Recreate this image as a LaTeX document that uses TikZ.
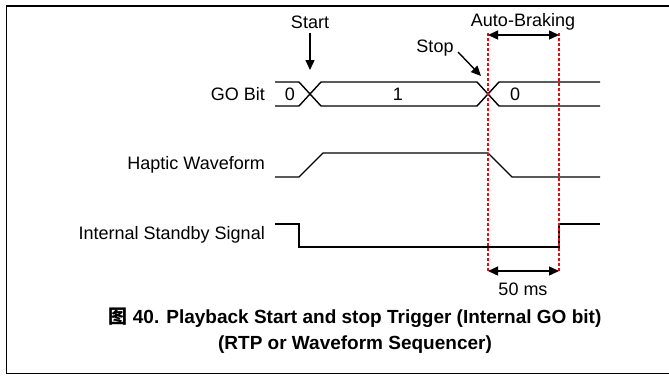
\documentclass[tikz,border=0pt]{standalone}
\usepackage{fontspec}
\setmainfont{Liberation Sans}
\newfontfamily\cjkfont{Noto Sans CJK SC}
\usetikzlibrary{arrows.meta,calc,positioning}
\tikzset{
    sigline/.style={line width=1.4pt,draw=black},
    markline/.style={line width=1.4pt,draw=red,dash pattern=on 3pt off 2pt},
    framepath/.style={line width=1.4pt,draw=black},
    callout/.style={line width=1.4pt,-{Triangle[length=10pt,width=9pt]}},
    spanarrow/.style={line width=1.4pt,{Triangle[length=10pt,width=9pt]}-{Triangle[length=10pt,width=9pt]}},
    siglabel/.style={anchor=east,inner sep=0pt,font=\fontsize{18}{21}\selectfont},
    bitval/.style={inner sep=0pt,font=\fontsize{18}{21}\selectfont},
    caption/.style={inner sep=0pt,font=\fontsize{19}{23}\selectfont\bfseries}
}
\begin{document}
\begin{tikzpicture}[x=1pt,y=-1pt]
  \useasboundingbox (0,0) rectangle (669,375);
  \draw[framepath] (669,6) -- (6.5,6) -- (6.5,373.5) -- (669,373.5);

  % signal names
  \node[siglabel] (gobit) at (265,94) {GO Bit};
  \node[siglabel] (haptic) at (265,165) {Haptic Waveform};
  \node[siglabel] (standby) at (265,235) {Internal Standby Signal};

  % GO bit bus
  \draw[sigline] (275,82) -- (299,82) -- (321,106) -- (477,106) -- (499,82) -- (600,82);
  \draw[sigline] (275,106) -- (299,106) -- (321,82) -- (477,82) -- (499,106) -- (600,106);
  \foreach \px/\val/\nm in {290/0/bita,398/1/bitb,515/0/bitc}{
    \node[bitval] (\nm) at (\px,94) {\val};
  }

  % haptic waveform
  \draw[sigline] (275,177) -- (299,177) -- (323,153) -- (488,153) -- (512,177) -- (600,177);

  % standby signal
  \draw[sigline] (275,224) -- (299,224) -- (299,247) -- (559,247) -- (559,224) -- (600,224);

  % braking window
  \coordinate (brakeA) at (488,33);
  \coordinate (brakeB) at (559,33);
  \coordinate (brakeC) at (488,271);
  \coordinate (brakeD) at (559,271);
  \draw[markline] (brakeA) -- (brakeC);
  \draw[markline] (brakeB) -- (brakeD);
  \draw[spanarrow] ($(brakeA)+(0,2)$) -- ($(brakeB)+(0,2)$);
  \draw[spanarrow] (brakeC) -- (brakeD);
  \node[bitval] (autobrake) at (523,22) {Auto-Braking};
  \node[bitval] (fiftyms) at (523,289) {50 ms};

  % trigger markers
  \node[bitval] (start) at (310,22) {Start};
  \coordinate (startTip) at (310,70);
  \draw[callout] (start.south) ++(0,4) -- (startTip);
  \node[bitval] (stop) at (435,48) {Stop};
  \coordinate (stopTail) at (458,52);
  \coordinate (stopTip) at (481,76);
  \draw[callout] (stopTail) -- (stopTip);

  % caption
  \node[caption] (capa) at (355,318) {{\cjkfont 图} 40. Playback Start and stop Trigger (Internal GO bit)};
  \node[caption] (capb) at (355,345) {(RTP or Waveform Sequencer)};
\end{tikzpicture}
\end{document}
